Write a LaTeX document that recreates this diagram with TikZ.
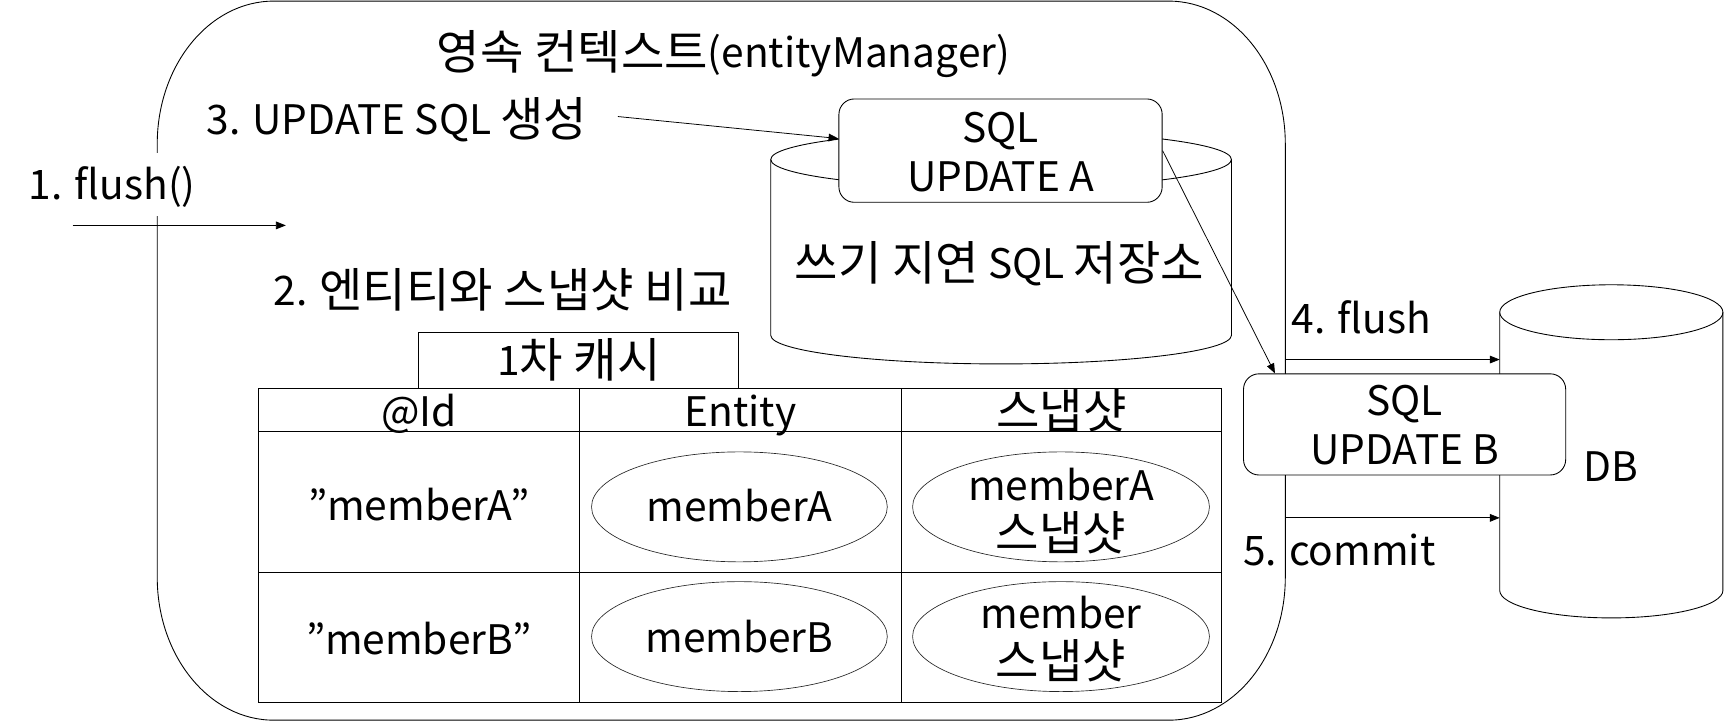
\documentclass[tikz,border=0pt]{standalone}
\usepackage{fontspec}
\setmainfont{Noto Sans CJK KR}
\newfontfamily\hgf{Noto Sans CJK KR}[Scale=1.16]
\newcommand\hg[1]{\raisebox{-2pt}{\hgf #1}}
\usetikzlibrary{arrows.meta,shapes.geometric}
\begin{document}
\begin{tikzpicture}[x=1pt,y=-1pt,line width=0.8pt,
  txt/.style={inner sep=0pt,text height=27pt,text depth=0pt,font=\fontsize{37}{44}\selectfont},
  arr/.style={-{Triangle[length=9pt,width=7pt]},line width=0.7pt},
  sqlbox/.style={draw,fill=white,rounded corners=14pt,inner sep=0pt},
  cellbox/.style={draw,inner sep=0pt},
  oval/.style={draw=black!85,ellipse,inner sep=0pt,line width=0.6pt,minimum width=269pt,minimum height=100pt}]
\useasboundingbox (0,0) rectangle (1568,655.75);
% persistence context
\draw (249,1) -- (1063,1) arc[start angle=90,end angle=0,x radius=106pt,y radius=130pt]
  -- (1169,525) arc[start angle=0,end angle=-90,x radius=106pt,y radius=130pt]
  -- (249,655) arc[start angle=270,end angle=180,x radius=106pt,y radius=130pt]
  -- (143,131) arc[start angle=180,end angle=90,x radius=106pt,y radius=130pt] -- cycle;
\node[txt] (title) at (658,48) {\hg{영속 컨텍스트}(entityManager)};
\node[txt] (l3) at (361,109) {3. UPDATE SQL \hg{생성}};
\node[txt,fill=white,inner xsep=2pt,inner ysep=15pt] (l1) at (102,168) {1. flush()};
\node[txt] (l2) at (457,264) {2. \hg{엔티티와 스냅샷 비교}};
% write-behind store
\draw (701,145) -- (701,305) arc[start angle=180,end angle=360,x radius=209.5pt,y radius=26pt] -- (1120,145);
\draw (910.5,145) ellipse[x radius=209.5pt,y radius=26pt];
\node[txt] (wtext) at (909,240) {\hg{쓰기 지연} SQL \hg{저장소}};
\node[sqlbox,minimum width=294pt,minimum height=94pt] (sqla) at (910,137) {};
\node[txt] (sqla1) at (910,116) {SQL};
\node[txt] (sqla2) at (910,161) {UPDATE A};
% DB
\draw (1364,284) -- (1364,537) arc[start angle=180,end angle=360,x radius=101.5pt,y radius=25pt] -- (1567,284);
\draw (1465.5,284) ellipse[x radius=101.5pt,y radius=25pt];
\node[txt] (db) at (1465,424) {DB};
\node[sqlbox,minimum width=293pt,minimum height=92pt] (sqlb) at (1277.5,386) {};
\node[txt] (sqlb1) at (1277.5,364) {SQL};
\node[txt] (sqlb2) at (1277.5,409) {UPDATE B};
\node[txt] (l4) at (1238,290) {4. flush};
\node[txt] (l5) at (1218,501) {5. commit};
% arrows
\coordinate (a1s) at (66,205); \coordinate (a1e) at (260,205);
\coordinate (a3s) at (562,106);
\coordinate (a4s) at (1170,327); \coordinate (a4e) at (1364,327);
\coordinate (a5s) at (1170,471); \coordinate (a5e) at (1364,471);
\draw[arr] (a1s) -- (a1e);
\draw[arr] (a3s) -- ([yshift=11pt]sqla.west);
\draw[arr] (sqla.east) -- ([xshift=29pt]sqlb.north west);
\draw[arr] (a4s) -- (a4e);
\draw[arr] (a5s) -- (a5e);
% first-level cache
\node[cellbox,minimum width=291pt,minimum height=51pt] (cache) at (526.5,327.5) {};
\node[txt] (cachet) at (526.5,328) {1\hg{차 캐시}};
\node[cellbox,minimum width=292pt,minimum height=39pt] (h1) at (381,372.5) {};
\node[cellbox,minimum width=293pt,minimum height=39pt] (h2) at (673.5,372.5) {};
\node[cellbox,minimum width=291pt,minimum height=39pt] (h3) at (965.5,372.5) {};
\node[cellbox,minimum width=292pt,minimum height=129pt] (r11) at (381,456.5) {};
\node[cellbox,minimum width=293pt,minimum height=129pt] (r12) at (673.5,456.5) {};
\node[cellbox,minimum width=291pt,minimum height=129pt] (r13) at (965.5,456.5) {};
\node[cellbox,minimum width=292pt,minimum height=118pt] (r21) at (381,580) {};
\node[cellbox,minimum width=293pt,minimum height=118pt] (r22) at (673.5,580) {};
\node[cellbox,minimum width=291pt,minimum height=118pt] (r23) at (965.5,580) {};
\node[txt] (h1t) at (381,374) {@Id};
\node[txt] (h2t) at (673.5,374) {Entity};
\node[txt] (h3t) at (965.5,374) {\hg{스냅샷}};
\node[txt] (id1) at (381,460) {"memberA"};
\node[txt] (id2) at (381,582) {"memberB"};
\node[oval] (e1) at (672.5,461) {};
\node[oval] (e2) at (672.5,579) {};
\node[oval,minimum width=270pt] (s1) at (965,461) {};
\node[oval,minimum width=270pt] (s2) at (965,579) {};
\node[txt] (e1t) at (672.5,461) {memberA};
\node[txt] (e2t) at (672.5,580) {memberB};
\node[txt] (s1a) at (965,442) {memberA};
\node[txt] (s1b) at (965,485) {\hg{스냅샷}};
\node[txt] (s2a) at (965,558) {member};
\node[txt] (s2b) at (965,602) {\hg{스냅샷}};
\end{tikzpicture}
\end{document}
